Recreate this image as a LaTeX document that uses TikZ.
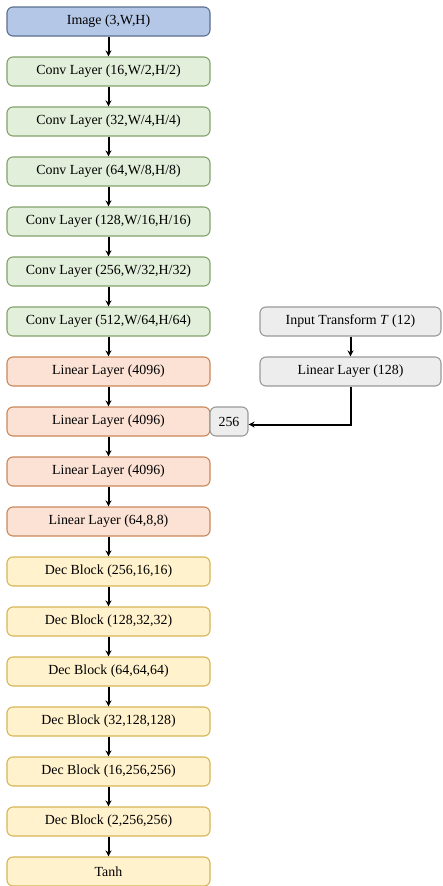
\documentclass[tikz,border=0pt]{standalone}
\usepackage{fontspec}
\setmainfont{Liberation Serif}
\usetikzlibrary{arrows.meta}

\definecolor{imgfill}{HTML}{B4C7E7}
\definecolor{imgdraw}{HTML}{5A6E8F}
\definecolor{convfill}{HTML}{E2EFDA}
\definecolor{convdraw}{HTML}{82A26A}
\definecolor{linfill}{HTML}{FBE2D5}
\definecolor{lindraw}{HTML}{C9875A}
\definecolor{decfill}{HTML}{FFF2CC}
\definecolor{decdraw}{HTML}{D6B656}
\definecolor{tfill}{HTML}{EDEDED}
\definecolor{tdraw}{HTML}{999999}

\tikzset{
  layer/.style={rounded corners=6pt, line width=1.1pt, minimum width=203pt,
    minimum height=29pt, inner sep=0pt, font=\fontsize{13.9}{16}\selectfont},
  imgbox/.style={layer, fill=imgfill, draw=imgdraw},
  convbox/.style={layer, fill=convfill, draw=convdraw},
  linbox/.style={layer, fill=linfill, draw=lindraw},
  decbox/.style={layer, fill=decfill, draw=decdraw},
  tbox/.style={layer, fill=tfill, draw=tdraw, minimum width=181pt},
  flow/.style={-{Stealth[length=6pt,width=6pt]}, line width=2pt}
}

\begin{document}
\begin{tikzpicture}[x=1pt,y=-1pt]
\useasboundingbox (0,0) rectangle (443,886);

% encoder
\node [imgbox] (img) at (108.5,21.5) {Image (3,W,H)};
\node [convbox] (conv1) at (108.5,71.5) {Conv Layer (16,W/2,H/2)};
\node [convbox] (conv2) at (108.5,121.5) {Conv Layer (32,W/4,H/4)};
\node [convbox] (conv3) at (108.5,171.5) {Conv Layer (64,W/8,H/8)};
\node [convbox] (conv4) at (108.5,221.5) {Conv Layer (128,W/16,H/16)};
\node [convbox] (conv5) at (108.5,271.5) {Conv Layer (256,W/32,H/32)};
\node [convbox] (conv6) at (108.5,321.5) {Conv Layer (512,W/64,H/64)};

% fully connected part
\node [linbox] (lin1) at (108.5,371.5) {Linear Layer (4096)};
\node [linbox] (lin2) at (108.5,421.5) {Linear Layer (4096)};
\node [linbox] (lin3) at (108.5,471.5) {Linear Layer (4096)};
\node [linbox] (lin4) at (108.5,521.5) {Linear Layer (64,8,8)};

% decoder
\node [decbox] (dec1) at (108.5,571.5) {Dec Block (256,16,16)};
\node [decbox] (dec2) at (108.5,621.5) {Dec Block (128,32,32)};
\node [decbox] (dec3) at (108.5,671.5) {Dec Block (64,64,64)};
\node [decbox] (dec4) at (108.5,721.5) {Dec Block (32,128,128)};
\node [decbox] (dec5) at (108.5,771.5) {Dec Block (16,256,256)};
\node [decbox] (dec6) at (108.5,821.5) {Dec Block (2,256,256)};
\node [decbox] (tanh) at (108.5,871.5) {Tanh};

% transform branch
\node [tbox] (tin) at (350.5,321.5) {Input Transform \textit{T} (12)};
\node [tbox] (tlin) at (350.5,371.5) {Linear Layer (128)};
\node [tbox, minimum width=38pt] (cat) at (229,421.5) {256};

\draw [flow] (img) -- (conv1);
\draw [flow] (conv1) -- (conv2);
\draw [flow] (conv2) -- (conv3);
\draw [flow] (conv3) -- (conv4);
\draw [flow] (conv4) -- (conv5);
\draw [flow] (conv5) -- (conv6);
\draw [flow] (conv6) -- (lin1);
\draw [flow] (lin1) -- (lin2);
\draw [flow] (lin2) -- (lin3);
\draw [flow] (lin3) -- (lin4);
\draw [flow] (lin4) -- (dec1);
\draw [flow] (dec1) -- (dec2);
\draw [flow] (dec2) -- (dec3);
\draw [flow] (dec3) -- (dec4);
\draw [flow] (dec4) -- (dec5);
\draw [flow] (dec5) -- (dec6);
\draw [flow] (dec6) -- (tanh);

\draw [flow] (tin) -- (tlin);
\draw [flow] (tlin.south) |- ([yshift=-3pt]cat.east);

\end{tikzpicture}
\end{document}
